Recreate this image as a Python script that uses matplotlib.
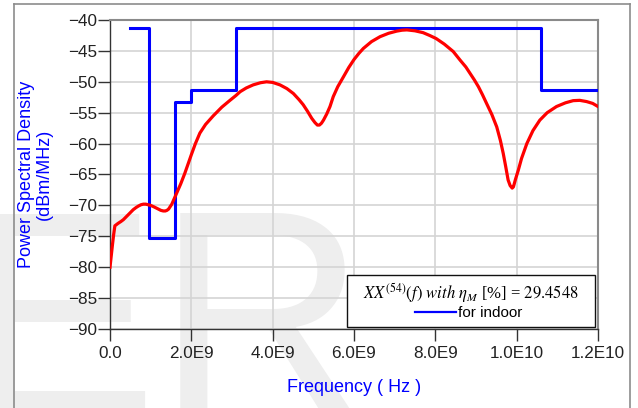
import matplotlib
matplotlib.use("Agg")
import matplotlib.pyplot as plt
from matplotlib.lines import Line2D
from matplotlib.patches import Rectangle

plt.rcParams['font.family'] = ['Liberation Sans', 'DejaVu Sans']
plt.rcParams['mathtext.fontset'] = 'stix'

# Indoor emission mask (band edges in GHz, level in dBm/MHz per band)
mask_edges_ghz = [0.5, 0.96, 1.61, 1.99, 3.1, 10.6, 12.0]
mask_levels = [-41.3, -75.3, -53.3, -51.3, -41.3, -51.3]

# Pulse power spectral density (GHz, dBm/MHz)
psd_freq_ghz = [0.0, 0.03, 0.06, 0.09, 0.12, 0.2, 0.27, 0.33, 0.45, 0.57,
                0.64, 0.70, 0.76, 0.82, 0.88, 0.94, 1.0, 1.07, 1.13, 1.19,
                1.25, 1.31, 1.36, 1.40, 1.44, 1.48, 1.52, 1.56, 1.60, 1.64,
                1.74, 1.84, 1.92, 2.0, 2.1, 2.21, 2.35, 2.54, 2.75, 2.95,
                3.1, 3.2, 3.35, 3.52, 3.7, 3.85, 4.0, 4.18, 4.35, 4.51,
                4.65, 4.75, 4.86, 4.96, 5.04, 5.10, 5.15, 5.20, 5.25, 5.33,
                5.41, 5.49, 5.6, 5.74, 5.87, 6.0, 6.12, 6.23, 6.43, 6.64,
                6.85, 7.05, 7.18, 7.30, 7.5, 7.70, 7.86, 8.02, 8.22, 8.44,
                8.61, 8.75, 8.85, 8.96, 9.06, 9.16, 9.26, 9.39, 9.51, 9.6,
                9.67, 9.73, 9.79, 9.84, 9.89, 9.92, 9.97, 10.04, 10.12, 10.25,
                10.4, 10.57, 10.75, 10.98, 11.2, 11.39, 11.55, 11.72, 11.87, 12.0]
psd_dbm = [-80.0, -78.2, -76.4, -74.7, -73.3, -72.9, -72.6, -72.3, -71.5, -70.7,
           -70.35, -70.1, -69.9, -69.8, -69.8, -69.9, -70.0, -70.2, -70.4, -70.6,
           -70.8, -70.9, -70.9, -70.8, -70.6, -70.2, -69.8, -69.2, -68.6, -68.0,
           -66.5, -64.8, -63.3, -61.8, -60.0, -58.3, -56.9, -55.5, -54.1, -53.0,
           -52.2, -51.6, -51.0, -50.5, -50.15, -50.0, -50.1, -50.5, -51.1, -51.9,
           -52.9, -53.7, -54.8, -55.9, -56.6, -57.0, -57.0, -56.7, -56.2, -55.2,
           -54.0, -52.4, -50.8, -49.2, -47.7, -46.4, -45.4, -44.6, -43.5, -42.7,
           -42.15, -41.8, -41.65, -41.6, -41.75, -42.05, -42.5, -43.0, -43.9, -45.1,
           -46.5, -47.6, -48.6, -49.7, -50.8, -52.1, -53.5, -55.3, -57.3, -59.5,
           -61.6, -63.7, -65.9, -66.8, -67.2, -67.0, -65.8, -64.3, -62.4, -60.0,
           -57.9, -56.2, -55.0, -54.0, -53.4, -53.05, -53.0, -53.2, -53.5, -54.0]

x_ticks = [0.0, 2.0e9, 4.0e9, 6.0e9, 8.0e9, 1.0e10, 1.2e10]
x_tick_labels = ["0.0", "2.0E9", "4.0E9", "6.0E9", "8.0E9", "1.0E10", "1.2E10"]
y_ticks = [-90, -85, -80, -75, -70, -65, -60, -55, -50, -45, -40]

W, H = 638, 408
fig = plt.figure(figsize=(W / 100, H / 100), dpi=100)

# faint background lettering
fig.text(-37 / W, 1 - 413 / H, "ER", fontsize=209, color='#eeeeee',
         ha='left', va='baseline', zorder=-5)

# outer frame
frame_kw = dict(color='#8c8c8c', lw=1.2, transform=fig.transFigure)
fig.add_artist(Line2D([13.5 / W, 13.5 / W], [0, 1 - 4 / H], **frame_kw))
fig.add_artist(Line2D([13.5 / W, 630 / W], [1 - 4 / H, 1 - 4 / H], **frame_kw))
fig.add_artist(Line2D([630 / W, 630 / W], [0, 1 - 4 / H], **frame_kw))

ax = fig.add_axes([110 / W, 1 - 329 / H, 488 / W, 309 / H])
ax.set_facecolor('none')

mask_x = [f * 1e9 for f in mask_edges_ghz]
mask_y = mask_levels + [mask_levels[-1]]
ax.step(mask_x, mask_y, where='post', color='#0000ff', lw=2.2,
        label='for indoor', zorder=3)

ax.plot([f * 1e9 for f in psd_freq_ghz], psd_dbm, color='#ff0000', lw=2.3,
        zorder=3, solid_joinstyle='round')

ax.set_xlim(0, 1.2e10)
ax.set_ylim(-90, -40)
ax.set_xticks(x_ticks)
ax.set_xticklabels(x_tick_labels)
ax.set_yticks(y_ticks)
ax.grid(True, color='#d4d4d4', lw=1.2, zorder=0)
ax.set_axisbelow(True)

for side in ('left', 'bottom'):
    ax.spines[side].set_color('#333333')
    ax.spines[side].set_linewidth(1.0)
for side in ('top', 'right'):
    ax.spines[side].set_color('#8a8a8a')
    ax.spines[side].set_linewidth(1.5)

ax.tick_params(axis='both', direction='out', length=8.5, width=1.0,
               color='#333333', labelsize=12.3, labelcolor='#222222')
ax.tick_params(axis='y', pad=1.0)
ax.tick_params(axis='x', pad=4.0)

fig.text(35.5 / W, 1 - 174.5 / H, "Power Spectral Density\n(dBm/MHz)",
         rotation=90, ha='center', va='center', multialignment='center',
         color='#0000ff', fontsize=13, linespacing=1.0)
fig.text(354 / W, 1 - 388 / H, "Frequency ( Hz )", ha='center', va='center',
         color='#0000ff', fontsize=13)

# legend box
x0, x1 = (347 - 110) / 488, (595 - 110) / 488
y0, y1 = (329 - 327) / 309, (329 - 275) / 309
ax.add_patch(Rectangle((x0, y0), x1 - x0, y1 - y0, transform=ax.transAxes,
                       facecolor='white', edgecolor='#111111', lw=1.0,
                       zorder=5))
ax.text((471 - 110) / 488, (329 - 293) / 309,
        r"$XX^{(54)}(f)$ $\mathit{with}$ $\eta_M$ [%] = $\mathit{29.4548}$",
        transform=ax.transAxes, ha='center', va='center', fontsize=12,
        family='Liberation Serif', zorder=6)
leg = ax.legend(loc='center', bbox_to_anchor=((468.5 - 110) / 488, (329 - 313) / 309),
                frameon=False, fontsize=11, handlelength=2.7,
                handletextpad=0.15, borderpad=0.0, borderaxespad=0.0)
leg.set_zorder(7)
leg.get_lines()[0].set_linewidth(1.6)

fig.savefig("out.png", dpi=100)
